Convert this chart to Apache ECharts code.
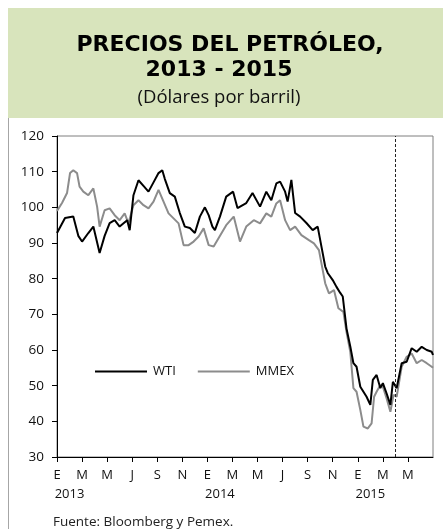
<!DOCTYPE html>
<html>
<head>
<meta charset="utf-8">
<script src="https://cdn.jsdelivr.net/npm/echarts@6/dist/echarts.min.js"></script>
<style>
  body { margin: 0; background: #fff; }
  #chart { width: 443px; height: 529px; }
</style>
</head>
<body>
<div id="chart"></div>
<script>
// meses desde ene-2013 (0 = 1 ene 2013)
var wtiMes = [0, 0.64, 1.3, 1.7, 2.0, 2.5, 2.9, 3.4, 3.8, 4.2, 4.6, 5.0, 5.6, 5.8, 6.1, 6.5, 6.9, 7.3, 7.7, 8.1,
  8.4, 8.6, 9.0, 9.4, 9.8, 10.2, 10.6, 11.0, 11.4, 11.8, 12.1, 12.4, 12.6, 13.0, 13.5, 14.05, 14.4, 15.1, 15.6, 16.2,
  16.7, 17.1, 17.5, 17.8, 18.2, 18.4, 18.7, 19.0, 19.4, 19.9, 20.4, 20.8, 21.1, 21.4, 21.6, 22.0, 22.3, 22.6, 22.8, 23.1,
  23.4, 23.65, 23.9, 24.2, 24.7, 25.0, 25.2, 25.5, 25.8, 26.0, 26.3, 26.6, 26.8, 27.1, 27.5, 27.9, 28.3, 28.7, 29.1, 29.5,
  29.9, 30];
var wti = [92.8, 97, 97.4, 92, 90.4, 92.8, 94.6, 87.2, 92, 95.6, 96.4, 94.6, 96.4, 93.6, 103.4, 107.6, 106, 104.4, 107, 109.6,
  110.4, 108, 104, 103, 98.4, 94.6, 94.2, 92.8, 97.4, 100, 97.8, 94.6, 93.6, 97.4, 103, 104.4, 99.8, 101.2, 104, 100.2,
  104.4, 102, 106.7, 107.2, 104.4, 101.6, 107.7, 98.4, 97.4, 95.6, 93.6, 94.6, 89, 83.4, 81.6, 79.6, 77.7, 76, 75, 66,
  61, 56.3, 55.3, 49.7, 46.9, 44.6, 51.6, 53, 49.3, 50.7, 47.8, 44.6, 51.1, 49.3, 56.3, 56.7, 60.5, 59.5, 60.9, 60,
  59.5, 58.6];

var mmexMes = [0, 0.4, 0.8, 1.04, 1.3, 1.6, 1.8, 2.1, 2.5, 2.9, 3.2, 3.4, 3.8, 4.2, 4.6, 5.0, 5.4, 5.7, 6.1, 6.5,
  6.9, 7.3, 7.7, 8.1, 8.5, 8.9, 9.3, 9.7, 10.1, 10.5, 10.9, 11.3, 11.7, 12.1, 12.5, 12.9, 13.5, 14.1, 14.6, 15.1,
  15.7, 16.2, 16.7, 17.1, 17.5, 17.8, 18.2, 18.6, 19.0, 19.5, 20.1, 20.5, 20.9, 21.1, 21.4, 21.7, 22.1, 22.45, 22.85, 23.1,
  23.4, 23.65, 23.9, 24.2, 24.45, 24.8, 25.1, 25.3, 25.5, 25.8, 26.0, 26.3, 26.6, 26.85, 27.1, 27.5, 27.9, 28.3, 28.7, 29.1,
  29.5, 29.9, 30];
var mmex = [99, 101.2, 104, 109.6, 110.4, 109.6, 105.8, 104.4, 103.4, 105.3, 100.2, 94.6, 99.2, 99.7, 97.8, 96.4, 98.3, 95.5, 100.6, 102,
  100.6, 99.7, 101.6, 104.9, 101.6, 98.3, 96.9, 95.5, 89.4, 89.4, 90.4, 91.8, 94.1, 89.4, 89, 91.4, 95, 97.4, 90.4, 94.6,
  96.4, 95.5, 98.3, 97.4, 101.1, 102, 96.4, 93.6, 94.6, 92.2, 90.8, 89.9, 88, 84.3, 78.7, 75.9, 76.8, 71.7, 70.7, 65,
  59.5, 49.3, 48.3, 43.2, 38.5, 38, 39.4, 46.9, 48.3, 50.2, 49.7, 46.4, 42.7, 47.4, 46.9, 55.3, 58.1, 59, 56.3, 57.2,
  56.3, 55.3, 55];

var etiquetasMes = ['E', 'M', 'M', 'J', 'S', 'N'];
var anios = { 1: '2013', 13: '2014', 25: '2015' };
var corte = 26.95;   // linea punteada (abr-2015)

var fuente = '"Open Sans", Lato, sans-serif';

function pares(xs, ys) {
  return xs.map(function (x, i) { return [x, ys[i]]; });
}

var myChart = echarts.init(document.getElementById('chart'));
var estiloTitulo = { fontFamily: '"DejaVu Sans", sans-serif', fontSize: 22, fontWeight: 'bold', color: '#000' };
var option = {
  animation: false,
  title: [
    { text: 'PRECIOS DEL PETRÓLEO,', left: 230, top: 34, textAlign: 'center', padding: 0, textStyle: estiloTitulo },
    { text: '2013 - 2015', left: 219, top: 59, textAlign: 'center', padding: 0, textStyle: estiloTitulo },
    {
      text: '(Dólares por barril)', left: 219, top: 88, textAlign: 'center', padding: 0,
      textStyle: { fontFamily: fuente, fontSize: 18.5, fontWeight: 'normal', color: '#111' }
    }
  ],
  graphic: [
    { type: 'rect', z: -10, shape: { x: 8, y: 8, width: 435, height: 110 }, style: { fill: '#d8e4bc' } },
    { type: 'line', shape: { x1: 8.5, y1: 118, x2: 8.5, y2: 529 }, style: { stroke: '#a6a6a6', lineWidth: 1 } },
    { type: 'text', left: 53, top: 515, style: { text: 'Fuente: Bloomberg y Pemex.', font: '13.5px ' + fuente, fill: '#222' } }
  ],
  legend: {
    left: 95,
    top: 365,
    padding: 0,
    icon: 'rect',
    itemWidth: 52,
    itemHeight: 2,
    itemGap: 22,
    textStyle: { fontFamily: fuente, fontSize: 13, color: '#111', padding: [0, 0, 0, 1] },
    data: ['WTI', 'MMEX']
  },
  grid: { left: 57, right: 10, top: 136, bottom: 72, show: true, borderColor: '#7f7f7f', borderWidth: 1 },
  xAxis: [
    {
      type: 'value', min: 0, max: 30, interval: 2,
      axisLine: { lineStyle: { color: '#000', width: 1 } },
      axisTick: { length: 5, lineStyle: { color: '#000' } },
      splitLine: { show: false },
      axisLabel: {
        margin: 12, fontFamily: fuente, fontSize: 13, color: '#111', showMaxLabel: false,
        formatter: function (v) { return etiquetasMes[(v / 2) % 6]; }
      }
    },
    {
      type: 'value', min: 0, max: 30, interval: 1, position: 'bottom', offset: 21,
      axisLine: { show: false }, axisTick: { show: false }, splitLine: { show: false },
      axisLabel: {
        margin: 10, fontFamily: fuente, fontSize: 13, color: '#111',
        formatter: function (v) { return anios[v] || ''; }
      }
    }
  ],
  yAxis: {
    type: 'value', min: 30, max: 120, interval: 10,
    axisLine: { show: true, lineStyle: { color: '#000', width: 1 } },
    axisTick: { show: true, length: 5, lineStyle: { color: '#000' } },
    splitLine: { show: false },
    axisLabel: { margin: 13, fontFamily: fuente, fontSize: 13.5, color: '#111' }
  },
  series: [
    {
      name: 'WTI', type: 'line', z: 3, symbol: 'none',
      lineStyle: { color: '#000', width: 2 }, itemStyle: { color: '#000' },
      data: pares(wtiMes, wti),
      markLine: {
        silent: true, symbol: 'none', label: { show: false },
        lineStyle: { color: '#222', type: [3, 2], width: 1 },
        data: [{ xAxis: corte }]
      }
    },
    {
      name: 'MMEX', type: 'line', z: 2, symbol: 'none',
      lineStyle: { color: '#8c8c8c', width: 2 }, itemStyle: { color: '#8c8c8c' },
      data: pares(mmexMes, mmex)
    }
  ]
};
myChart.setOption(option);
</script>
</body>
</html>
